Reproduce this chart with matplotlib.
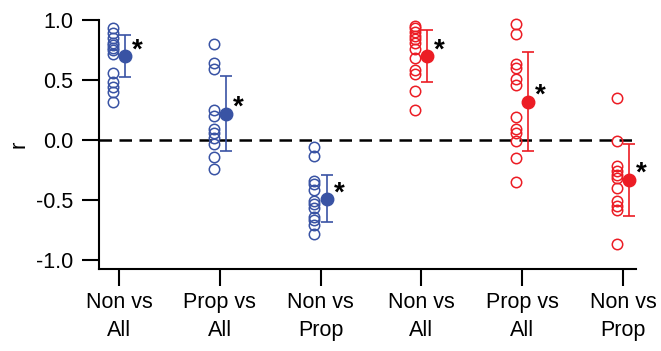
import numpy as np
import matplotlib.pyplot as plt

plt.rcParams['font.family'] = ['Liberation Sans', 'DejaVu Sans']

labels = ['Non vs\nAll', 'Prop vs\nAll', 'Non vs\nProp', 'Non vs\nAll', 'Prop vs\nAll', 'Non vs\nProp']
colors = ['#3953a4', '#3953a4', '#3953a4', '#ec1c24', '#ec1c24', '#ec1c24']

non_all_a = [0.93, 0.89, 0.85, 0.81, 0.79, 0.77, 0.75, 0.72, 0.56, 0.48, 0.44, 0.40, 0.32]
prop_all_a = [0.80, 0.64, 0.59, 0.25, 0.20, 0.09, 0.06, 0.02, -0.03, -0.14, -0.24]
non_prop_a = [-0.06, -0.13, -0.34, -0.37, -0.42, -0.51, -0.53, -0.57, -0.64, -0.67, -0.71, -0.78]
non_all_b = [0.95, 0.93, 0.90, 0.87, 0.84, 0.81, 0.76, 0.68, 0.58, 0.55, 0.41, 0.25]
prop_all_b = [0.965, 0.88, 0.63, 0.60, 0.51, 0.46, 0.19, 0.09, 0.06, -0.01, -0.15, -0.35]
non_prop_b = [0.35, -0.01, -0.22, -0.26, -0.29, -0.32, -0.40, -0.51, -0.55, -0.58, -0.87]
groups = [non_all_a, prop_all_a, non_prop_a, non_all_b, prop_all_b, non_prop_b]

means = [0.70, 0.22, -0.49, 0.70, 0.32, -0.33]
errs = [0.175, 0.31, 0.195, 0.215, 0.41, 0.30]

fig = plt.figure(figsize=(6.61, 3.51), dpi=100)
ax = fig.add_axes([99/661, 1 - 269/351, (636 - 99)/661, (269 - 20)/351])

ax.axhline(0, color='k', lw=1.8, dashes=(5, 3), zorder=1)

for i, vals in enumerate(groups):
    x = i + 1
    c = colors[i]
    ax.plot([x - 0.063] * len(vals), vals, 'o', ms=7.5, mfc='none', mec=c, mew=1.1, clip_on=False, zorder=3)
    ax.errorbar(x + 0.06, means[i], yerr=errs[i], fmt='o', color=c, ms=9, elinewidth=1.2,
                capsize=4.5, capthick=1.2, clip_on=False, zorder=4)
    ax.annotate('*', (x + 0.06, means[i]), xytext=(5, 4), textcoords='offset points',
                ha='left', va='center', fontsize=20, fontweight='bold', color='k',
                annotation_clip=False)

ax.set_xlim(0.80, 6.13)
ax.set_ylim(-1.075, 1.0)
ax.set_yticks([-1.0, -0.5, 0.0, 0.5, 1.0])
ax.set_yticklabels(['-1.0', '-0.5', '0.0', '0.5', '1.0'])
ax.set_xticks(range(1, 7))
ax.set_xticklabels(labels, linespacing=1.45)
ax.set_ylabel('r', fontsize=16, labelpad=5)

for s in ['top', 'right']:
    ax.spines[s].set_visible(False)
for s in ['left', 'bottom']:
    ax.spines[s].set_linewidth(1.5)
ax.spines['left'].set_bounds(-1.075, 1.0)
ax.tick_params(axis='both', direction='out', length=12.5, width=1.5, labelsize=15.5)
ax.tick_params(axis='y', pad=6)
ax.tick_params(axis='x', pad=4)

fig.savefig('out.png', dpi=100)
